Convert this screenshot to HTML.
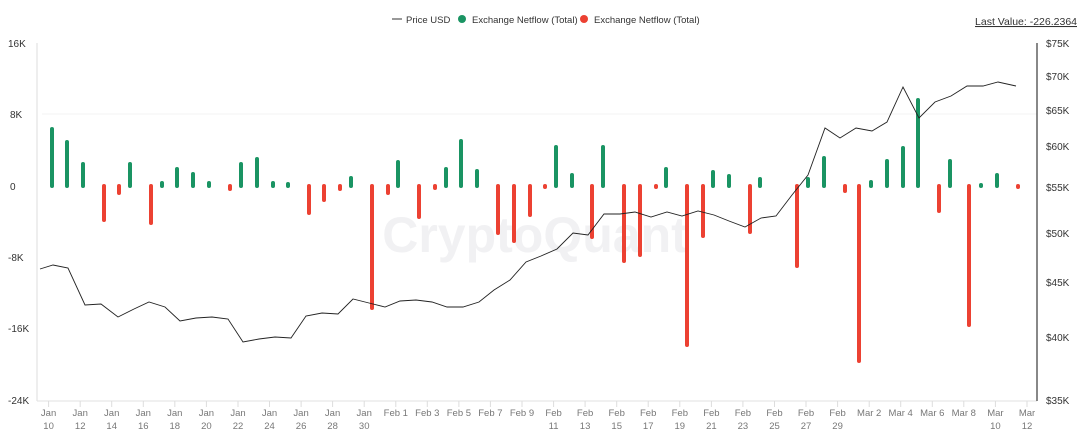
<!DOCTYPE html>
<html><head><meta charset="utf-8"><style>
html,body{margin:0;padding:0;background:#fff;}
svg{display:block;font-family:"Liberation Sans",sans-serif;}
</style></head><body>
<svg width="1080" height="434" viewBox="0 0 1080 434" xmlns="http://www.w3.org/2000/svg">
<text x="535" y="252" font-size="50" fill="#f1f1f3" text-anchor="middle" font-weight="bold">CryptoQuant</text>
<!-- legend -->
<line x1="392" y1="19" x2="402" y2="19" stroke="#333" stroke-width="1"/>
<text x="406" y="23" font-size="9.5" fill="#333">Price USD</text>
<circle cx="462" cy="19" r="4" fill="#1a9463"/>
<text x="472" y="23" font-size="9.5" fill="#333">Exchange Netflow (Total)</text>
<circle cx="584" cy="19" r="4" fill="#ec4132"/>
<text x="594" y="23" font-size="9.5" fill="#333">Exchange Netflow (Total)</text>
<text x="1077" y="25" font-size="10.5" fill="#333" text-anchor="end" text-decoration="underline">Last Value: -226.2364</text>
<!-- axes -->
<line x1="37" y1="43" x2="37" y2="401" stroke="#ddd"/>
<line x1="37" y1="401" x2="1037" y2="401" stroke="#e2e2e2"/>
<line x1="42" y1="114" x2="1037" y2="114" stroke="#f3f3f3"/>
<line x1="1037" y1="43" x2="1037" y2="401" stroke="#111" stroke-width="1"/>
<g font-size="10" fill="#333">
<text x="8" y="47">16K</text><text x="10" y="118">8K</text><text x="10" y="190">0</text>
<text x="8" y="261">-8K</text><text x="8" y="332">-16K</text><text x="8" y="404">-24K</text>
</g>
<g font-size="10" fill="#333">
<text x="1046" y="47">$75K</text><text x="1046" y="80">$70K</text><text x="1046" y="114">$65K</text>
<text x="1046" y="150">$60K</text><text x="1046" y="191">$55K</text><text x="1046" y="237">$50K</text>
<text x="1046" y="286">$45K</text><text x="1046" y="341">$40K</text><text x="1046" y="404">$35K</text>
</g>
<!-- bars -->
<g stroke-width="4" stroke-linecap="round">
<g stroke="#1a9463">
<line x1="52" y1="186" x2="52" y2="129"/><line x1="67" y1="186" x2="67" y2="142"/><line x1="83" y1="186" x2="83" y2="164"/>
<line x1="130" y1="186" x2="130" y2="164"/><line x1="162" y1="186" x2="162" y2="183"/><line x1="177" y1="186" x2="177" y2="169"/>
<line x1="193" y1="186" x2="193" y2="174"/><line x1="209" y1="186" x2="209" y2="183"/><line x1="241" y1="186" x2="241" y2="164"/>
<line x1="257" y1="186" x2="257" y2="159"/><line x1="273" y1="186" x2="273" y2="183"/><line x1="288" y1="186" x2="288" y2="184"/>
<line x1="351" y1="186" x2="351" y2="178"/><line x1="398" y1="186" x2="398" y2="162"/><line x1="446" y1="186" x2="446" y2="169"/>
<line x1="461" y1="186" x2="461" y2="141"/><line x1="477" y1="186" x2="477" y2="171"/><line x1="556" y1="186" x2="556" y2="147"/>
<line x1="572" y1="186" x2="572" y2="175"/><line x1="603" y1="186" x2="603" y2="147"/><line x1="666" y1="186" x2="666" y2="169"/>
<line x1="713" y1="186" x2="713" y2="172"/><line x1="729" y1="186" x2="729" y2="176"/><line x1="760" y1="186" x2="760" y2="179"/>
<line x1="808" y1="186" x2="808" y2="179"/><line x1="824" y1="186" x2="824" y2="158"/><line x1="871" y1="186" x2="871" y2="182"/>
<line x1="887" y1="186" x2="887" y2="161"/><line x1="903" y1="186" x2="903" y2="148"/><line x1="918" y1="186" x2="918" y2="100"/>
<line x1="950" y1="186" x2="950" y2="161"/><line x1="981" y1="186" x2="981" y2="185"/><line x1="997" y1="186" x2="997" y2="175"/>
</g>
<g stroke="#ec4132">
<line x1="104" y1="186" x2="104" y2="220"/><line x1="119" y1="186" x2="119" y2="193"/><line x1="151" y1="186" x2="151" y2="223"/>
<line x1="230" y1="186" x2="230" y2="189"/><line x1="309" y1="186" x2="309" y2="213"/><line x1="324" y1="186" x2="324" y2="200"/>
<line x1="340" y1="186" x2="340" y2="189"/><line x1="372" y1="186" x2="372" y2="308"/><line x1="388" y1="186" x2="388" y2="193"/>
<line x1="419" y1="186" x2="419" y2="217"/><line x1="435" y1="186" x2="435" y2="188"/><line x1="498" y1="186" x2="498" y2="233"/>
<line x1="514" y1="186" x2="514" y2="241"/><line x1="530" y1="186" x2="530" y2="215"/><line x1="545" y1="186" x2="545" y2="187"/>
<line x1="592" y1="186" x2="592" y2="237"/><line x1="624" y1="186" x2="624" y2="261"/><line x1="640" y1="186" x2="640" y2="255"/>
<line x1="656" y1="186" x2="656" y2="187"/><line x1="687" y1="186" x2="687" y2="345"/><line x1="703" y1="186" x2="703" y2="236"/>
<line x1="750" y1="186" x2="750" y2="232"/><line x1="797" y1="186" x2="797" y2="266"/><line x1="845" y1="186" x2="845" y2="191"/>
<line x1="859" y1="186" x2="859" y2="361"/><line x1="939" y1="186" x2="939" y2="211"/><line x1="969" y1="186" x2="969" y2="325"/>
<line x1="1018" y1="186" x2="1018" y2="187"/>
</g>
</g>
<!-- price -->
<polyline fill="none" stroke="#222" stroke-width="0.9" points="40,269 53,265 68,268 85,305 101,304 118,317 134,309 149,302 165,307 180,321 196,318 212,317 228,319 243,342 259,339 275,337 291,338 306,316 322,313 338,314 353,299 369,303 385,307 400,301 416,300 432,302 447,307 463,307 479,302 494,290 510,280 526,262 541,256 557,249 573,233 588,235 604,214 620,214 635,212 651,217 667,212 682,216 698,211 714,215 729,221 745,227 761,218 776,216 792,195 808,175 825,128 840,138 856,128 872,131 887,122 903,87 919,118 935,102 951,96 967,86 983,86 998,82 1016,86"/>
<!-- x ticks -->
<g stroke="#ddd">
<line x1="48.6" y1="401" x2="48.6" y2="407"/><line x1="80.2" y1="401" x2="80.2" y2="407"/><line x1="111.7" y1="401" x2="111.7" y2="407"/><line x1="143.3" y1="401" x2="143.3" y2="407"/><line x1="174.8" y1="401" x2="174.8" y2="407"/><line x1="206.4" y1="401" x2="206.4" y2="407"/><line x1="238" y1="401" x2="238" y2="407"/><line x1="269.5" y1="401" x2="269.5" y2="407"/><line x1="301.1" y1="401" x2="301.1" y2="407"/><line x1="332.6" y1="401" x2="332.6" y2="407"/><line x1="364.2" y1="401" x2="364.2" y2="407"/><line x1="395.8" y1="401" x2="395.8" y2="407"/><line x1="427.3" y1="401" x2="427.3" y2="407"/><line x1="458.9" y1="401" x2="458.9" y2="407"/><line x1="490.4" y1="401" x2="490.4" y2="407"/><line x1="522" y1="401" x2="522" y2="407"/><line x1="553.6" y1="401" x2="553.6" y2="407"/><line x1="585.1" y1="401" x2="585.1" y2="407"/><line x1="616.7" y1="401" x2="616.7" y2="407"/><line x1="648.2" y1="401" x2="648.2" y2="407"/><line x1="679.8" y1="401" x2="679.8" y2="407"/><line x1="711.4" y1="401" x2="711.4" y2="407"/><line x1="742.9" y1="401" x2="742.9" y2="407"/><line x1="774.5" y1="401" x2="774.5" y2="407"/><line x1="806" y1="401" x2="806" y2="407"/><line x1="837.6" y1="401" x2="837.6" y2="407"/><line x1="869.2" y1="401" x2="869.2" y2="407"/><line x1="900.7" y1="401" x2="900.7" y2="407"/><line x1="932.3" y1="401" x2="932.3" y2="407"/><line x1="963.8" y1="401" x2="963.8" y2="407"/><line x1="995.4" y1="401" x2="995.4" y2="407"/><line x1="1027" y1="401" x2="1027" y2="407"/>
</g>
<g font-size="9.5" fill="#777" text-anchor="middle">
<text x="48.6" y="416">Jan</text><text x="48.6" y="429">10</text>
<text x="80.2" y="416">Jan</text><text x="80.2" y="429">12</text>
<text x="111.7" y="416">Jan</text><text x="111.7" y="429">14</text>
<text x="143.3" y="416">Jan</text><text x="143.3" y="429">16</text>
<text x="174.8" y="416">Jan</text><text x="174.8" y="429">18</text>
<text x="206.4" y="416">Jan</text><text x="206.4" y="429">20</text>
<text x="238" y="416">Jan</text><text x="238" y="429">22</text>
<text x="269.5" y="416">Jan</text><text x="269.5" y="429">24</text>
<text x="301.1" y="416">Jan</text><text x="301.1" y="429">26</text>
<text x="332.6" y="416">Jan</text><text x="332.6" y="429">28</text>
<text x="364.2" y="416">Jan</text><text x="364.2" y="429">30</text>
<text x="395.8" y="416">Feb 1</text><text x="427.3" y="416">Feb 3</text><text x="458.9" y="416">Feb 5</text>
<text x="490.4" y="416">Feb 7</text><text x="522" y="416">Feb 9</text>
<text x="553.6" y="416">Feb</text><text x="553.6" y="429">11</text>
<text x="585.1" y="416">Feb</text><text x="585.1" y="429">13</text>
<text x="616.7" y="416">Feb</text><text x="616.7" y="429">15</text>
<text x="648.2" y="416">Feb</text><text x="648.2" y="429">17</text>
<text x="679.8" y="416">Feb</text><text x="679.8" y="429">19</text>
<text x="711.4" y="416">Feb</text><text x="711.4" y="429">21</text>
<text x="742.9" y="416">Feb</text><text x="742.9" y="429">23</text>
<text x="774.5" y="416">Feb</text><text x="774.5" y="429">25</text>
<text x="806" y="416">Feb</text><text x="806" y="429">27</text>
<text x="837.6" y="416">Feb</text><text x="837.6" y="429">29</text>
<text x="869.2" y="416">Mar 2</text><text x="900.7" y="416">Mar 4</text><text x="932.3" y="416">Mar 6</text><text x="963.8" y="416">Mar 8</text>
<text x="995.4" y="416">Mar</text><text x="995.4" y="429">10</text>
<text x="1027" y="416">Mar</text><text x="1027" y="429">12</text>
</g>
</svg>
</body></html>
